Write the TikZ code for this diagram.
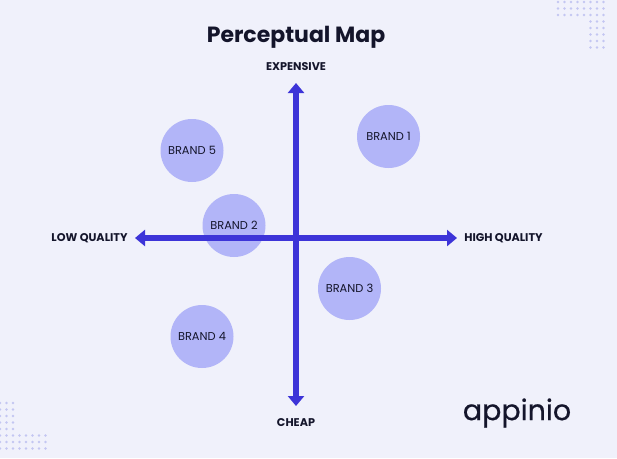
\documentclass[tikz,border=0pt]{standalone}
\usepackage{fontspec}
\setmainfont{Poppins}
\newfontfamily\logofont{Poppins}[FakeBold=0.6]
\usetikzlibrary{arrows.meta}
\definecolor{bgc}{HTML}{F0F1FB}
\definecolor{axisc}{HTML}{3D34D8}
\definecolor{bubble}{HTML}{B2B5F8}
\definecolor{inkc}{HTML}{14152B}
\definecolor{dotc}{HTML}{C3C6F2}
\tikzset{
  brand/.style={circle,fill=bubble,minimum size=63pt,inner sep=0pt,text=inkc,font=\fontsize{11.4}{13}\selectfont},
  axislab/.style={text=inkc,inner sep=0pt,font=\fontsize{11.2}{13}\selectfont\bfseries},
  axisline/.style={draw=axisc,line width=6pt,{Triangle[length=10pt,width=16pt]}-{Triangle[length=10pt,width=16pt]}},
  griddot/.style={fill=dotc,draw=none}
}
\begin{document}
\begin{tikzpicture}[x=1pt,y=-1pt]
\useasboundingbox (0,0) rectangle (617,458);
\fill[bgc] (0,0) rectangle (617,458);
% dot patterns
\foreach \i in {0,...,7}\foreach \y in {2,8.5,15}{\fill[griddot] (558+\i*6.5,\y) circle (1.3);}
\foreach \i in {5,6,7}\foreach \y in {21.5,28,34.5,41,47.5}{\fill[griddot] (558+\i*6.5,\y) circle (1.3);}
\foreach \i in {0,...,7}\foreach \y in {435.5,442,448.5}{\fill[griddot] (\i*6.5,\y) circle (1.3);}
\foreach \i in {0,1,2}\foreach \y in {403,409.5,416,422.5,429}{\fill[griddot] (\i*6.5,\y) circle (1.3);}
% bubbles
\node[brand] (b1) at (388.5,136.5) {BRAND 1};
\node[brand] (b5) at (192,150.5) {BRAND 5};
\node[brand] (b2) at (234,225.5) {BRAND 2};
\node[brand] (b3) at (349.5,288.5) {BRAND 3};
\node[brand] (b4) at (202,336.5) {BRAND 4};
% labels
\node[inkc,inner sep=0pt,font=\fontsize{22}{26}\selectfont\bfseries] (title) at (296,37.5) {Perceptual Map};
\node[axislab] (top) at (296,66.5) {EXPENSIVE};
\node[axislab] (bot) at (296,422.5) {CHEAP};
\node[axislab] (lft) at (89.5,238.5) {LOW QUALITY};
\node[axislab] (rgt) at (503.5,238.5) {HIGH QUALITY};
\node[inkc,inner sep=0pt,font=\fontsize{28.5}{32}\logofont] (logo) at (517,413) {appinio};
% axes anchored between the labels
\coordinate (yt) at (296,83);
\coordinate (yb) at (296,406);
\coordinate (xl) at (135,238);
\coordinate (xr) at (457,238);
\draw[axisline] (yb) -- (yt);
\draw[axisline] (xl) -- (xr);
\end{tikzpicture}
\end{document}
